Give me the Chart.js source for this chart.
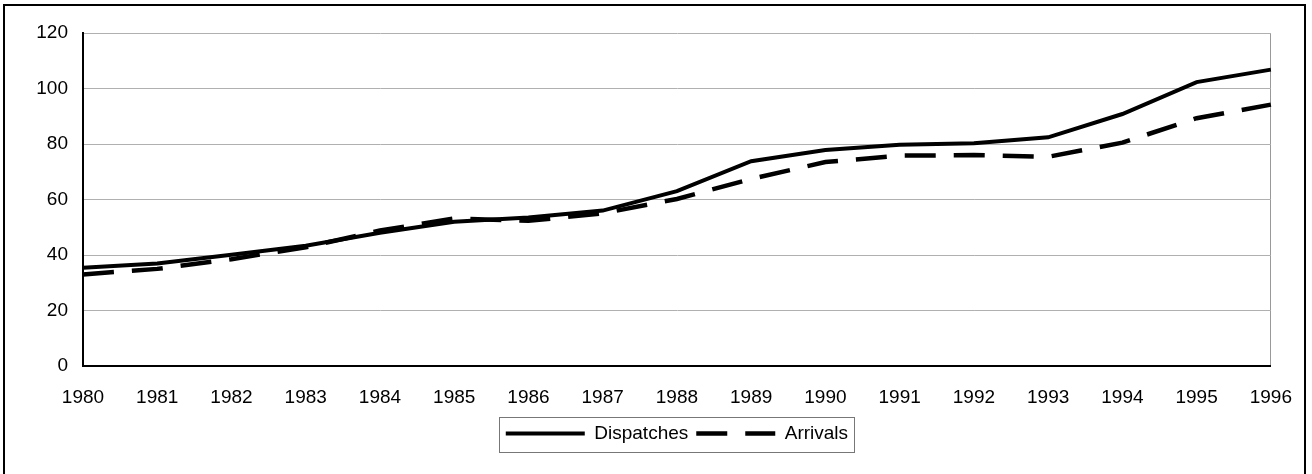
<!DOCTYPE html>
<html>
<head>
<meta charset="utf-8">
<script src="https://cdn.jsdelivr.net/npm/chart.js@4/dist/chart.umd.min.js"></script>
<style>
  html, body { margin: 0; padding: 0; background: #fff; }
  #wrap { width: 1312px; height: 474px; }
</style>
</head>
<body>
<div id="wrap"><canvas id="tradeChart" width="1312" height="474"></canvas></div>
<script>
const years = ['1980', '1981', '1982', '1983', '1984', '1985', '1986', '1987', '1988',
  '1989', '1990', '1991', '1992', '1993', '1994', '1995', '1996'];
const dispatches = [35.4, 36.9, 40.1, 43.3, 48, 52, 53.5, 56, 63, 73.8, 77.8, 79.7, 80.3, 82.4, 90.8, 102.3, 106.8];
const arrivals = [33, 35, 38.5, 42.8, 48.8, 53.2, 52.3, 55, 60.2, 67.4, 73.5, 75.8, 76, 75.4, 80.5, 89.3, 94.2];

Chart.defaults.font.family = '"Liberation Sans", Arial, Helvetica, sans-serif';
Chart.defaults.font.size = 19;
Chart.defaults.color = '#000';

// outer frame, legend centred under the plot, thin box round the legend
const frame = {
  id: 'frame',
  afterLayout(chart) {
    const legend = chart.legend;
    const shift = (chart.chartArea.left + chart.chartArea.right) / 2 - (legend.left + legend.right) / 2;
    legend.left += shift;
    legend.right += shift;
  },
  afterDraw(chart) {
    const ctx = chart.ctx;
    ctx.save();
    ctx.strokeStyle = '#000';
    ctx.lineWidth = 2;
    ctx.strokeRect(4, 5, 1301, 490);
    const boxes = chart.legend.legendHitBoxes;
    if (boxes && boxes.length) {
      const first = boxes[0];
      const last = boxes[boxes.length - 1];
      ctx.strokeStyle = '#777';
      ctx.lineWidth = 1;
      ctx.strokeRect(Math.round(first.left) - 6.5, chart.legend.top + 1.5,
        Math.round(last.left + last.width - first.left) + 13, chart.legend.height - 2);
    }
    ctx.restore();
  },
};

const ctx = document.getElementById('tradeChart').getContext('2d');
new Chart(ctx, {
  type: 'line',
  data: {
    labels: years,
    datasets: [
      {
        label: 'Dispatches',
        data: dispatches,
        borderColor: '#000',
        backgroundColor: '#000',
        borderWidth: 4,
        pointRadius: 0,
        tension: 0,
        pointStyle: 'line',
      },
      {
        label: 'Arrivals',
        data: arrivals,
        borderColor: '#000',
        backgroundColor: '#000',
        borderWidth: 4.5,
        borderDash: [31, 18],
        pointRadius: 0,
        tension: 0,
        pointStyle: 'line',
      },
    ],
  },
  options: {
    responsive: false,
    animation: false,
    layout: { padding: { top: 33, right: 40, bottom: 21, left: 0 } },
    scales: {
      x: {
        offset: false,
        afterFit(scale) { scale.height = 50; },
        grid: {
          drawTicks: false,
          color: (c) => (c.index === years.length - 1 ? '#999' : 'rgba(0,0,0,0)'),
          lineWidth: 1,
        },
        border: { color: '#000', width: 2 },
        ticks: { padding: 20, maxRotation: 0, autoSkip: false },
      },
      y: {
        min: 0,
        max: 120,
        afterFit(scale) { scale.width = 83; },
        grid: {
          drawTicks: false,
          color: '#b0b0b0',
          lineWidth: 1,
        },
        border: { color: '#000', width: 2 },
        ticks: { stepSize: 20, padding: 15 },
      },
    },
    plugins: {
      legend: {
        position: 'bottom',
        labels: {
          usePointStyle: true,
          pointStyleWidth: 79,
          padding: 8,
          font: { size: 19 },
          color: '#000',
          generateLabels(chart) {
            const items = Chart.defaults.plugins.legend.labels.generateLabels(chart);
            items.forEach((item) => {
              const ds = chart.data.datasets[item.datasetIndex];
              item.lineDash = ds.borderDash || [];
              item.lineWidth = ds.borderWidth;
            });
            return items;
          },
        },
      },
      tooltip: { enabled: false },
    },
  },
  plugins: [frame],
});
</script>
</body>
</html>
